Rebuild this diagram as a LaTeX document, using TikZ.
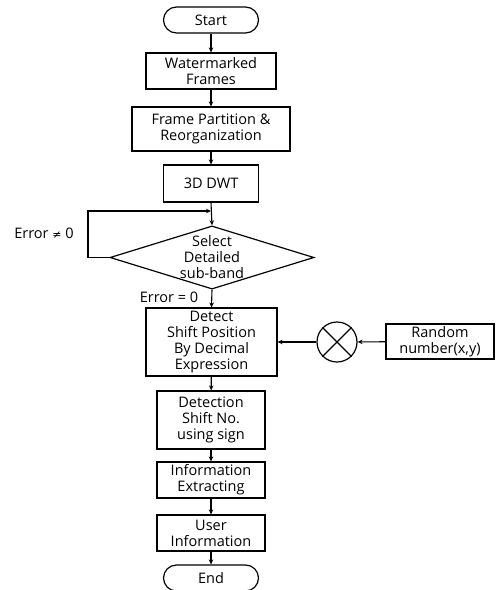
\documentclass[tikz,border=0pt]{standalone}
\usepackage{fontspec}
\setmainfont{Open Sans}
\newfontfamily\symf{DejaVu Sans}
\usetikzlibrary{shapes.geometric,arrows.meta,positioning}
\begin{document}
\begin{tikzpicture}[x=1pt,y=-1pt,
  every node/.style={font=\fontsize{14.5}{16}\selectfont, inner sep=0pt},
  box/.style={draw, line width=1.2pt, align=center},
  term/.style={draw, line width=1.2pt, rounded corners=13pt},
  arr/.style={-{Stealth[length=5pt,width=4.5pt]}, line width=1.1pt}]
\useasboundingbox (0,0) rectangle (498,590);
\node[term, minimum width=95pt, minimum height=26pt] (start) at (211,20) {Start};
\node[box, minimum width=130pt, minimum height=36pt] (wm) at (211,71) {Watermarked\\Frames};
\node[box, minimum width=158pt, minimum height=44pt] (fp) at (211,129) {Frame Partition \&\\Reorganization};
\node[box, minimum width=95pt, minimum height=37pt] (dwt) at (211,183.5) {3D DWT};
\node[draw, diamond, line width=1.2pt, minimum width=204pt, minimum height=63pt, align=center, aspect=3.2] (sel) at (212,257.5) {Select\\Detailed\\sub-band};
\node[box, minimum width=131pt, minimum height=68pt] (det) at (211.5,342) {Detect\\Shift Position\\By Decimal\\Expression};
\node[draw, circle, line width=1.2pt, minimum size=40pt] (mul) at (337,342) {};
\draw[line width=1.2pt] (mul.45) -- (mul.225) (mul.135) -- (mul.315);
\node[box, minimum width=108pt, minimum height=35pt] (rnd) at (440,341.5) {Random\\number(x,y)};
\node[box, minimum width=108pt, minimum height=58pt] (dsn) at (211,420) {Detection\\Shift No.\\using sign};
\node[box, minimum width=108pt, minimum height=36pt] (ie) at (211,480) {Information\\Extracting};
\node[box, minimum width=108pt, minimum height=36pt] (ui) at (211,533) {User\\Information};
\node[term, minimum width=95pt, minimum height=26pt] (end) at (211,578) {End};
\node (ne) at (44,233) {Error {\symf\fontsize{11}{16}\selectfont ≠} 0};
\node (eq) at (169,297) {Error = 0};
\coordinate (join) at (211,211);
\draw[arr] (start) -- (wm);
\draw[arr] (wm) -- (fp);
\draw[arr] (fp) -- (dwt);
\draw[arr] (dwt.south) -- (sel.north);
\draw[arr] (sel.west) -- (88,257.5) -- (88,211) -- (join);
\draw[arr] (sel.south) -- (det.north);
\draw[arr] (rnd) -- (mul);
\draw[arr] (mul) -- (det);
\draw[arr] (det) -- (dsn);
\draw[arr] (dsn) -- (ie);
\draw[arr] (ie) -- (ui);
\draw[arr] (ui) -- (end);
\end{tikzpicture}
\end{document}
